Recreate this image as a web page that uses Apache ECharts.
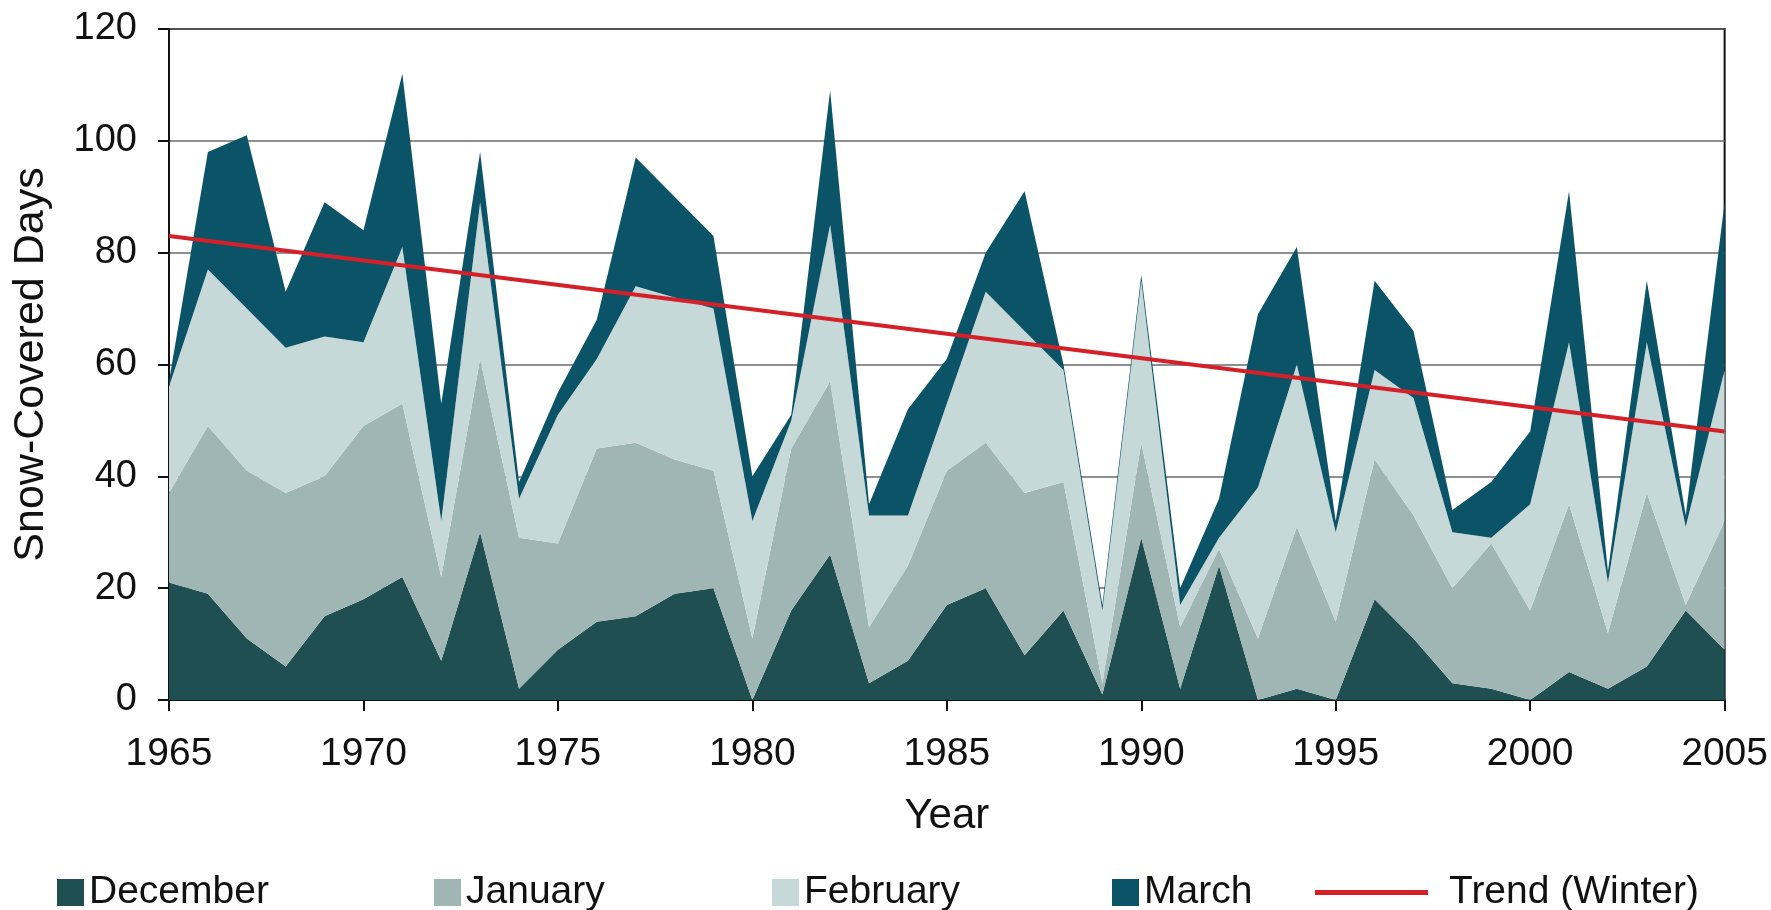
<!DOCTYPE html>
<html>
<head>
<meta charset="utf-8">
<script src="https://cdn.jsdelivr.net/npm/echarts@6/dist/echarts.min.js"></script>
<style>
html,body{margin:0;padding:0;background:#fff;}
#chart{width:1771px;height:910px;}
</style>
</head>
<body>
<div id="chart"></div>
<script>
// ---- Data ----
const years = [1965,1966,1967,1968,1969,1970,1971,1972,1973,1974,1975,1976,1977,1978,1979,1980,1981,1982,1983,1984,1985,1986,1987,1988,1989,1990,1991,1992,1993,1994,1995,1996,1997,1998,1999,2000,2001,2002,2003,2004,2005];
const december = [21,19,11,6,15,18,22,7,30,2,9,14,15,19,20,0,16,26,3,7,17,20,8,16,1,29,2,24,0,2,0,18,11,3,2,0,5,2,6,16,9];
const january  = [16,30,30,31,25,31,31,15,31,27,19,31,31,24,21,11,29,31,10,17,24,26,29,23,2,17,11,3,11,29,14,25,22,17,26,16,30,10,31,1,23];
const february = [19,28,29,26,25,15,28,10,28,7,23,16,28,29,29,21,5,28,20,9,12,27,29,20,13,29,4,2,27,29,16,16,21,10,1,19,29,9,27,14,27];
const march    = [1,21,31,10,24,20,31,21,9,3,4,7,23,18,13,8,1,24,2,19,8,7,25,1,1,1,3,7,31,21,2,16,12,4,10,13,27,2,11,2,30];
const trendYears  = [1965, 2005];
const trendValues = [83, 48];
const yTicks = [0,20,40,60,80,100,120];
const seriesNames = ['December','January','February','March','Trend (Winter)'];

// ---- Styling ----
const FONT = "'Liberation Sans', Arial, sans-serif";
const colors = ['#1f4f51', '#9fb6b5', '#c6d8d8', '#0b5468', '#d42029'];

const monthly = [december, january, february, march];
const areaSeries = monthly.map((vals, i) => ({
  name: seriesNames[i],
  type: 'line',
  stack: 'winter',
  xAxisIndex: 0,
  data: vals,
  symbol: 'none',
  lineStyle: {width: 0},
  areaStyle: {color: colors[i], opacity: 1},
  itemStyle: {color: colors[i]},
  z: 2
}));

const trendSeries = {
  name: seriesNames[4],
  type: 'line',
  xAxisIndex: 1,
  data: trendYears.map((y, i) => [y, trendValues[i]]),
  symbol: 'none',
  lineStyle: {color: colors[4], width: 4},
  itemStyle: {color: colors[4]},
  z: 5
};

const legendPos = [52, 429, 767, 1107, 1310];
const legends = seriesNames.map((n, i) => ({
  data: [{name: n, icon: 'rect'}],
  left: legendPos[i],
  top: 868,
  itemWidth: i < 4 ? 27 : 113,
  itemHeight: i < 4 ? 27 : 5,
  itemGap: 0,
  textStyle: {fontFamily: FONT, fontSize: 39, color: '#111', padding: [0,0,0,i<4?0:16]},
  selectedMode: false
}));

const chart = echarts.init(document.getElementById('chart'), null, {renderer: 'canvas'});
chart.setOption({
  animation: false,
  backgroundColor: '#fff',
  grid: {left: 169, right: 45, top: 29, bottom: 210, show: true, borderColor: '#111', borderWidth: 2, backgroundColor: 'transparent'},
  legend: legends,
  xAxis: [{
    type: 'category', data: years.map(String), boundaryGap: false,
    name: 'Year', nameLocation: 'middle', nameGap: 95,
    nameTextStyle: {fontFamily: FONT, fontSize: 42, color: '#111'},
    axisLine: {lineStyle: {color: '#111', width: 2}},
    axisTick: {show: true, inside: false, interval: 4, length: 11, lineStyle: {color: '#111', width: 2}},
    axisLabel: {fontFamily: FONT, fontSize: 39, color: '#111', margin: 35, interval: 4},
    splitLine: {show: false}
  }, {
    type: 'value', min: years[0], max: years[years.length-1], show: false
  }],
  yAxis: {
    type: 'value', min: yTicks[0], max: yTicks[yTicks.length-1], interval: 20,
    name: 'Snow-Covered Days', nameLocation: 'middle', nameGap: 116, nameRotate: 90,
    nameTextStyle: {fontFamily: FONT, fontSize: 43, color: '#111'},
    axisLine: {show: true, lineStyle: {color: '#111', width: 2}},
    axisTick: {show: true, inside: false, length: 11, lineStyle: {color: '#111', width: 2}},
    axisLabel: {fontFamily: FONT, fontSize: 38, color: '#111', margin: 32},
    splitLine: {show: true, lineStyle: {color: '#6a6a6a', width: 1.5}}
  },
  series: [...areaSeries, trendSeries]
});
</script>
</body>
</html>
